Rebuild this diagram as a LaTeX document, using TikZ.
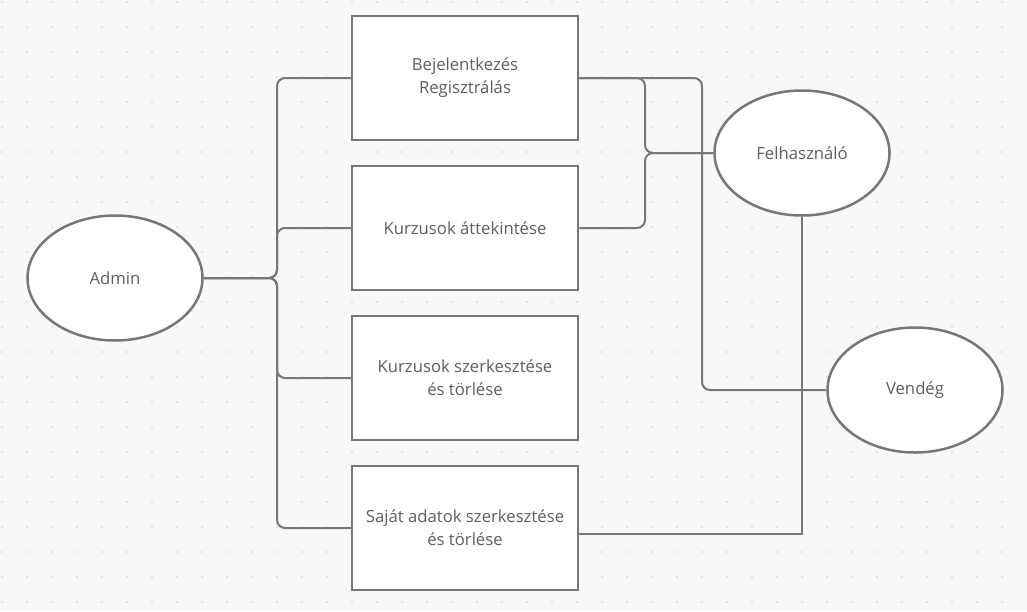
\documentclass[tikz,border=0pt]{standalone}
\usepackage{fontspec}
\setmainfont{Open Sans}
\usepackage{tikz}
\usetikzlibrary{calc,shapes.geometric}
\definecolor{paper}{HTML}{F8F8FA}
\definecolor{griddot}{HTML}{DCDCE0}
\definecolor{edgegray}{HTML}{777777}
\definecolor{labelgray}{HTML}{5F5F5F}
\newcommand{\ucw}{226pt}
\newcommand{\uch}{124pt}
\newcommand{\acw}{175pt}
\newcommand{\ach}{125pt}
\tikzstyle{usecase}=[rectangle, line width=2.5pt, minimum width=\ucw, minimum height=\uch, draw=edgegray, fill=white, text=labelgray, align=center, inner sep=0pt, font=\fontsize{16.7}{23}\selectfont]
\tikzstyle{actor}=[usecase, ellipse, minimum width=\acw, minimum height=\ach]
\tikzstyle{wire}=[line width=2pt, draw=edgegray, rounded corners=8pt]
\newcommand{\adminlink}[1]{ \draw[wire] (Admin.east) -- (bus) |- (#1.west); }

\begin{document}
\begin{tikzpicture}[x=1pt,y=-1pt]
        \fill[paper] (0,0) rectangle (1027,611);
        \useasboundingbox (0,0) rectangle (1027,611);
        \foreach \i in {0,...,40}{
            \foreach \j in {0,...,24}{
                \fill[griddot] (2+25*\i,2+25*\j) circle (1.2);
            }
        }

        \node[actor] (Admin) at (115,278) {Admin};
        \node[usecase] (U1) at (465,78) {Bejelentkezés\\Regisztrálás};
        \node[usecase] (U2) at (465,228) {Kurzusok áttekintése};
        \node[usecase] (U3) at (465,378) {Kurzusok szerkesztése\\és törlése};
        \node[usecase] (U4) at (465,528) {Saját adatok szerkesztése\\és törlése};
        \node[actor] (F) at (802,153) {Felhasználó};
        \node[actor] (V) at (915,390) {Vendég};

        \coordinate (bus) at (277,278);
        \coordinate (fork) at (645,153);
        \coordinate (drop) at (702,390);
        \foreach \u in {U1,U2,U3,U4}{ \adminlink{\u} }

        \draw[wire] (U1.east) -| (fork) -- (F.west);
        \draw[wire] (U2.east) -| (fork) -- (F.west);
        \draw[wire] (U1.east) -| (drop) -- (V.west);
        \draw[wire, sharp corners] (F.south) |- ($(U4.east)+(0,6)$);
\end{tikzpicture}
\end{document}
